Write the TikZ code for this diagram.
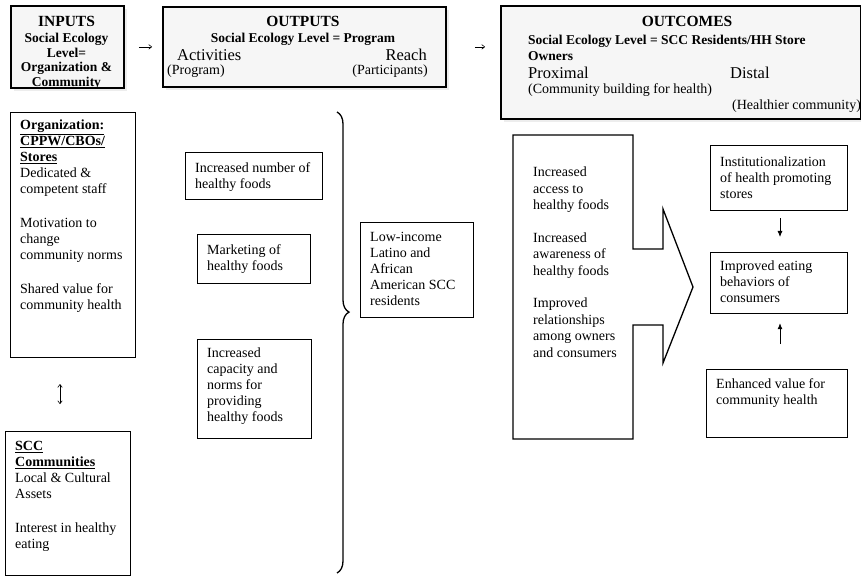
\documentclass[tikz,border=0pt]{standalone}
\usepackage{fontspec}
\setmainfont{Liberation Serif}
\usetikzlibrary{arrows.meta,decorations.pathreplacing,shadows}

\begin{document}
\begin{tikzpicture}[x=1pt,y=-1pt,
  panel/.style={draw, line width=1.2pt, anchor=north west, inner sep=0pt},
  header/.style={draw, line width=1.8pt, fill=gray!7, anchor=north west, inner sep=0pt,
    drop shadow={shadow xshift=3pt, shadow yshift=-3pt, fill=gray!14, opacity=1}},
  body/.style={anchor=north west, inner sep=0pt, align=left, font=\fontsize{14}{16}\selectfont},
  headtitle/.style={anchor=north, inner sep=0pt, font=\fontsize{15.5}{17}\selectfont\bfseries},
  headsub/.style={inner sep=0pt, font=\fontsize{13.5}{14.5}\selectfont\bfseries},
  bigword/.style={inner sep=0pt, font=\fontsize{16.5}{18}\selectfont},
  paren/.style={inner sep=0pt, font=\fontsize{14}{16}\selectfont},
  flow/.style={line width=0.6pt, -{To[length=3.5pt,width=5pt]}},
  twoway/.style={line width=0.6pt, {To[length=3.5pt,width=5pt]}-{To[length=3.5pt,width=5pt]}},
  feed/.style={line width=0.8pt, -{Latex[length=6pt,width=5pt]}},
]
\useasboundingbox (0,0) rectangle (861,577);

% ---------- header row ----------
\node[header, minimum width=113, minimum height=82] (inputs) at (10,5) {};
\node[header, minimum width=283, minimum height=80] (outputs) at (162,6) {};
\node[header, minimum width=360, minimum height=113] (outcomes) at (500,5) {};

\node[headtitle] (inputs-title) at (66.5,16) {INPUTS};
\node[headsub, anchor=north, align=center] (inputs-sub) at (66.5,33)
  {Social Ecology\\Level=\\Organization \&\\Community};

\node[headtitle] (outputs-title) at (303,16) {OUTPUTS};
\node[headsub, anchor=north] (outputs-sub) at (303,33) {Social Ecology Level = Program};
\node[bigword, anchor=north west] (activities) at (177,49) {Activities};
\node[bigword, anchor=north east] (reach) at (427,49) {Reach};
\node[paren, anchor=north west] (program) at (167,65) {(Program)};
\node[paren, anchor=north east] (participants) at (428,65) {(Participants)};

\node[headtitle] (outcomes-title) at (687,16) {OUTCOMES};
\node[headsub, anchor=north west, align=left, font=\fontsize{13.5}{16}\selectfont\bfseries]
  (outcomes-sub) at (528,35) {Social Ecology Level = SCC Residents/HH Store\\Owners};
\node[bigword, anchor=north west] (proximal) at (528,67) {Proximal};
\node[bigword, anchor=north west] (distal) at (730,67) {Distal};
\node[paren, anchor=north west] (community-building) at (528,83) {(Community building for health)};
\node[paren, anchor=north west] (healthier) at (732,100) {(Healthier community)};

\draw[flow, shorten <=14pt, shorten >=10pt] (inputs.east) -- (outputs.west);
\draw[flow, shorten <=28pt, shorten >=15pt] (outputs.east) -- (outputs.east -| outcomes.west);

% ---------- inputs ----------
\node[panel, minimum width=125, minimum height=245] (org) at (10,112) {};
\node[body] (org-text) at (20,120)
  {\underline{\textbf{Organization:}}\\\underline{\textbf{CPPW/CBOs/}}\\\underline{\textbf{Stores}}\\
   Dedicated \&\\competent staff\\[18pt]Motivation to\\change\\community norms\\[18pt]
   Shared value for\\community health};

\node[panel, minimum width=125, minimum height=144] (scc) at (5,431) {};
\node[body] (scc-text) at (15,441)
  {\underline{\textbf{SCC}}\\\underline{\textbf{Communities}}\\Local \& Cultural\\Assets\\[18pt]
   Interest in healthy\\eating};

\coordinate (linkx) at (60,0);
\draw[twoway, shorten <=26pt, shorten >=27pt] (org.south -| linkx) -- (scc.north -| linkx);

% ---------- outputs ----------
\node[panel, minimum width=137, minimum height=47] (foods) at (185,152) {};
\node[body] (foods-text) at (195,162) {Increased number of\\healthy foods};

\node[panel, minimum width=113, minimum height=49] (marketing) at (197,234) {};
\node[body] (marketing-text) at (207,244) {Marketing of\\healthy foods};

\node[panel, minimum width=114, minimum height=99] (capacity) at (197,339) {};
\node[body] (capacity-text) at (207,348)
  {Increased\\capacity and\\norms for\\providing\\healthy foods};

\draw[line width=1.3pt, decorate, decoration={brace, amplitude=12pt, aspect=0.434}]
  (337,112) -- (337,573);

\node[panel, minimum width=113, minimum height=95] (residents) at (360,222) {};
\node[body] (residents-text) at (370,232)
  {Low-income\\Latino and\\African\\American SCC\\residents};

% ---------- proximal outcomes (block arrow) ----------
\draw[line width=1.3pt, line join=miter]
  (513,135) -- (633,135) -- (633,249) -- (663,249) -- (663,209) -- (693,287)
  -- (663,363) -- (663,325) -- (633,325) -- (633,439) -- (513,439) -- cycle;
\node[body, font=\fontsize{14}{16.5}\selectfont] (proximal-text) at (533,167)
  {Increased\\access to\\healthy foods\\[16pt]Increased\\awareness of\\healthy foods\\[16pt]
   Improved\\relationships\\among owners\\and consumers};

% ---------- distal outcomes ----------
\node[panel, minimum width=137, minimum height=65] (inst) at (710,145) {};
\node[body] (inst-text) at (720,157)
  {Institutionalization\\of health promoting\\stores};

\node[panel, minimum width=137, minimum height=61] (eating) at (710,252) {};
\node[body] (eating-text) at (720,261) {Improved eating\\behaviors of\\consumers};

\node[panel, minimum width=141, minimum height=68] (value) at (706,369) {};
\node[body] (value-text) at (716,378) {Enhanced value for\\community health};

\coordinate (feedx) at (780,0);
\draw[feed, shorten <=7pt, shorten >=15pt] (inst.south -| feedx) -- (eating.north -| feedx);
\draw[feed, shorten <=25pt, shorten >=9pt] (value.north -| feedx) -- (eating.south -| feedx);

\end{tikzpicture}
\end{document}
